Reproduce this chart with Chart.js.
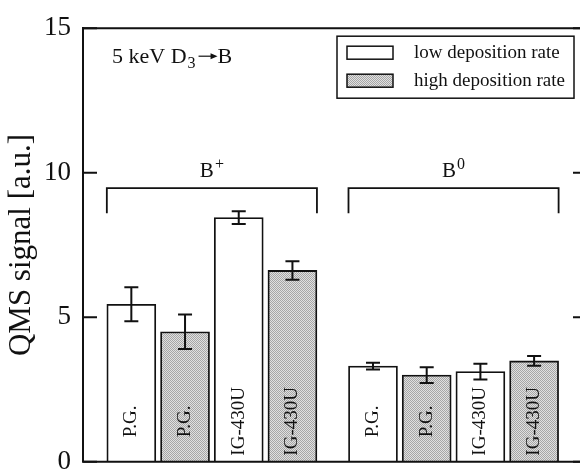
<!DOCTYPE html>
<html>
<head>
<meta charset="utf-8">
<script src="https://cdn.jsdelivr.net/npm/chart.js@4"></script>
<style>
  html, body { margin: 0; padding: 0; background: #fff; overflow: hidden; }
  #wrap { width: 600px; height: 490px; }
</style>
</head>
<body>
<div id="wrap"><canvas id="chart" width="600" height="490"></canvas></div>
<script>
// order in every array: B+ P.G., B+ IG-430U, B0 P.G., B0 IG-430U
var groups = ['+', '0'];
var materials = ['P.G.', 'IG-430U'];
var lowValues = [5.45, 8.45, 3.31, 3.12];
var lowErrors = [0.59, 0.22, 0.12, 0.27];
var highValues = [4.50, 6.62, 3.00, 3.49];
var highErrors = [0.60, 0.32, 0.27, 0.17];
var yTicks = [0, 5, 10, 15];
var seriesLabels = ['low deposition rate', 'high deposition rate'];

var ink = '#111';
var serif = "'Liberation Serif', 'Times New Roman', serif";
var groupGap = 0.5; // extra slot space between the two groups

var canvas = document.getElementById('chart');
var ctx = canvas.getContext('2d');

function makeDither() {
  var c = document.createElement('canvas');
  c.width = 2; c.height = 2;
  var g = c.getContext('2d');
  g.fillStyle = '#e0e0e0'; g.fillRect(0, 0, 2, 2);
  g.fillStyle = '#a6a6a6'; g.fillRect(0, 0, 1, 1); g.fillRect(1, 1, 1, 1);
  return ctx.createPattern(c, 'repeat');
}
var dither = makeDither();

var lowPts = [], highPts = [];
groups.forEach(function(grp, g) {
  materials.forEach(function(mat, m) {
    var i = g * materials.length + m;
    var x = 1 + g * (4 + groupGap) + m * 2;
    lowPts.push({ x: x, y: lowValues[i] });
    highPts.push({ x: x + 1, y: highValues[i] });
  });
});

var decorPlugin = {
  id: 'decor',
  afterDatasetsDraw: function(chart) {
    var c = chart.ctx, a = chart.chartArea, ys = chart.scales.y;
    c.save();
    c.strokeStyle = ink; c.fillStyle = ink;

    // error bars + material names inside the bars
    chart.data.datasets.forEach(function(ds, d) {
      var meta = chart.getDatasetMeta(d);
      meta.data.forEach(function(bar, i) {
        var v = ds.data[i].y, e = ds.errors[i];
        var yt = ys.getPixelForValue(v + e), yb = ys.getPixelForValue(v - e);
        c.lineWidth = 2;
        c.beginPath();
        c.moveTo(bar.x, yt); c.lineTo(bar.x, yb);
        c.moveTo(bar.x - 7, yt); c.lineTo(bar.x + 7, yt);
        c.moveTo(bar.x - 7, yb); c.lineTo(bar.x + 7, yb);
        c.stroke();

        c.save();
        c.translate(bar.x, ys.getPixelForValue(1.4));
        c.rotate(-Math.PI / 2);
        c.font = '19px ' + serif;
        c.textAlign = 'center'; c.textBaseline = 'middle';
        c.fillText(materials[i % materials.length], 0, 0);
        c.restore();
      });
    });

    // group brackets with labels
    var lowMeta = chart.getDatasetMeta(0), highMeta = chart.getDatasetMeta(1);
    groups.forEach(function(grp, g) {
      var first = lowMeta.data[g * 2], last = highMeta.data[g * 2 + 1];
      var x1 = first.x - first.width / 2, x2 = last.x + last.width / 2;
      var yTop = ys.getPixelForValue(9.47), yEnd = ys.getPixelForValue(8.6);
      c.lineWidth = 1.8;
      c.beginPath();
      c.moveTo(x1, yEnd); c.lineTo(x1, yTop); c.lineTo(x2, yTop); c.lineTo(x2, yEnd);
      c.stroke();

      var base = ys.getPixelForValue(9.84);
      c.font = '21px ' + serif;
      var wB = c.measureText('B').width;
      c.font = '16px ' + serif;
      var wS = c.measureText(grp).width;
      var sx = (x1 + x2) / 2 - (wB + wS + 1) / 2;
      c.textAlign = 'left'; c.textBaseline = 'alphabetic';
      c.font = '21px ' + serif;
      c.fillText('B', sx, base);
      c.font = '16px ' + serif;
      c.fillText(grp, sx + wB + 1, base - 8);
    });

    // annotation "5 keV D3 -> B"
    var x = a.left + 29, yb = a.top + 35;
    c.textAlign = 'left'; c.textBaseline = 'alphabetic';
    c.font = '22px ' + serif;
    c.fillText('5 keV D', x, yb);
    x += c.measureText('5 keV D').width;
    c.font = '16px ' + serif;
    c.fillText('3', x + 1, yb + 5);
    x += c.measureText('3').width + 4;
    c.lineWidth = 1.2;
    c.beginPath(); c.moveTo(x, yb - 7); c.lineTo(x + 13, yb - 7); c.stroke();
    c.beginPath(); c.moveTo(x + 12, yb - 10); c.lineTo(x + 19, yb - 7); c.lineTo(x + 12, yb - 4); c.closePath(); c.fill();
    x += 19;
    c.font = '22px ' + serif;
    c.fillText('B', x, yb);

    // legend box
    var lx = a.left + 254, ly = a.top + 8, lw = 237, lh = 62;
    c.lineWidth = 1.5;
    c.strokeRect(lx, ly, lw, lh);
    chart.data.datasets.forEach(function(ds, d) {
      var sy = ly + 10 + d * 28;
      c.fillStyle = ds.backgroundColor;
      c.fillRect(lx + 10, sy, 46, 13);
      c.strokeStyle = ink; c.lineWidth = 1.5;
      c.strokeRect(lx + 10, sy, 46, 13);
      c.fillStyle = ink;
      c.font = '19px ' + serif;
      c.textBaseline = 'middle';
      c.fillText(ds.label, lx + 77, sy + 6.5);
    });
    c.restore();
  },
  afterDraw: function(chart) {
    var c = chart.ctx, a = chart.chartArea, ys = chart.scales.y;
    c.save();
    c.strokeStyle = ink; c.lineWidth = 2;
    c.beginPath();
    c.moveTo(a.left, a.top); c.lineTo(a.right, a.top); c.lineTo(a.right, a.bottom); c.lineTo(a.left - 1, a.bottom);
    c.stroke();
    ys.ticks.forEach(function(t) {
      var py = ys.getPixelForValue(t.value);
      c.beginPath();
      c.moveTo(a.left, py); c.lineTo(a.left + 14, py);
      c.moveTo(a.right - 14, py); c.lineTo(a.right, py);
      c.stroke();
    });
    c.restore();
  }
};

var chart = new Chart(ctx, {
  type: 'bar',
  data: {
    datasets: [
      { label: seriesLabels[0], data: lowPts, errors: lowErrors, backgroundColor: '#ffffff',
        borderColor: ink, borderWidth: 1.8, barThickness: 49, grouped: false, borderSkipped: 'start' },
      { label: seriesLabels[1], data: highPts, errors: highErrors, backgroundColor: dither,
        borderColor: ink, borderWidth: 1.8, barThickness: 49, grouped: false, borderSkipped: 'start' }
    ]
  },
  options: {
    responsive: false,
    animation: false,
    devicePixelRatio: 1,
    layout: { padding: { top: 19, right: 13, bottom: 23, left: 0 } },
    plugins: { legend: { display: false }, tooltip: { enabled: false } },
    scales: {
      x: { type: 'linear', min: 0.1, max: 9.485, offset: false, display: false },
      y: {
        min: 0, max: 15,
        afterFit: function(s) { s.width = 83; },
        afterBuildTicks: function(s) { s.ticks = yTicks.map(function(v) { return { value: v }; }); },
        ticks: { font: { family: serif, size: 27 }, color: ink, padding: 12 },
        grid: { display: false, drawTicks: false },
        border: { display: true, width: 2, color: ink },
        title: { display: true, text: 'QMS signal [a.u.]', color: ink,
                 font: { family: serif, size: 31 }, padding: { top: 3, bottom: 0 } }
      }
    }
  },
  plugins: [decorPlugin]
});
</script>
</body>
</html>
